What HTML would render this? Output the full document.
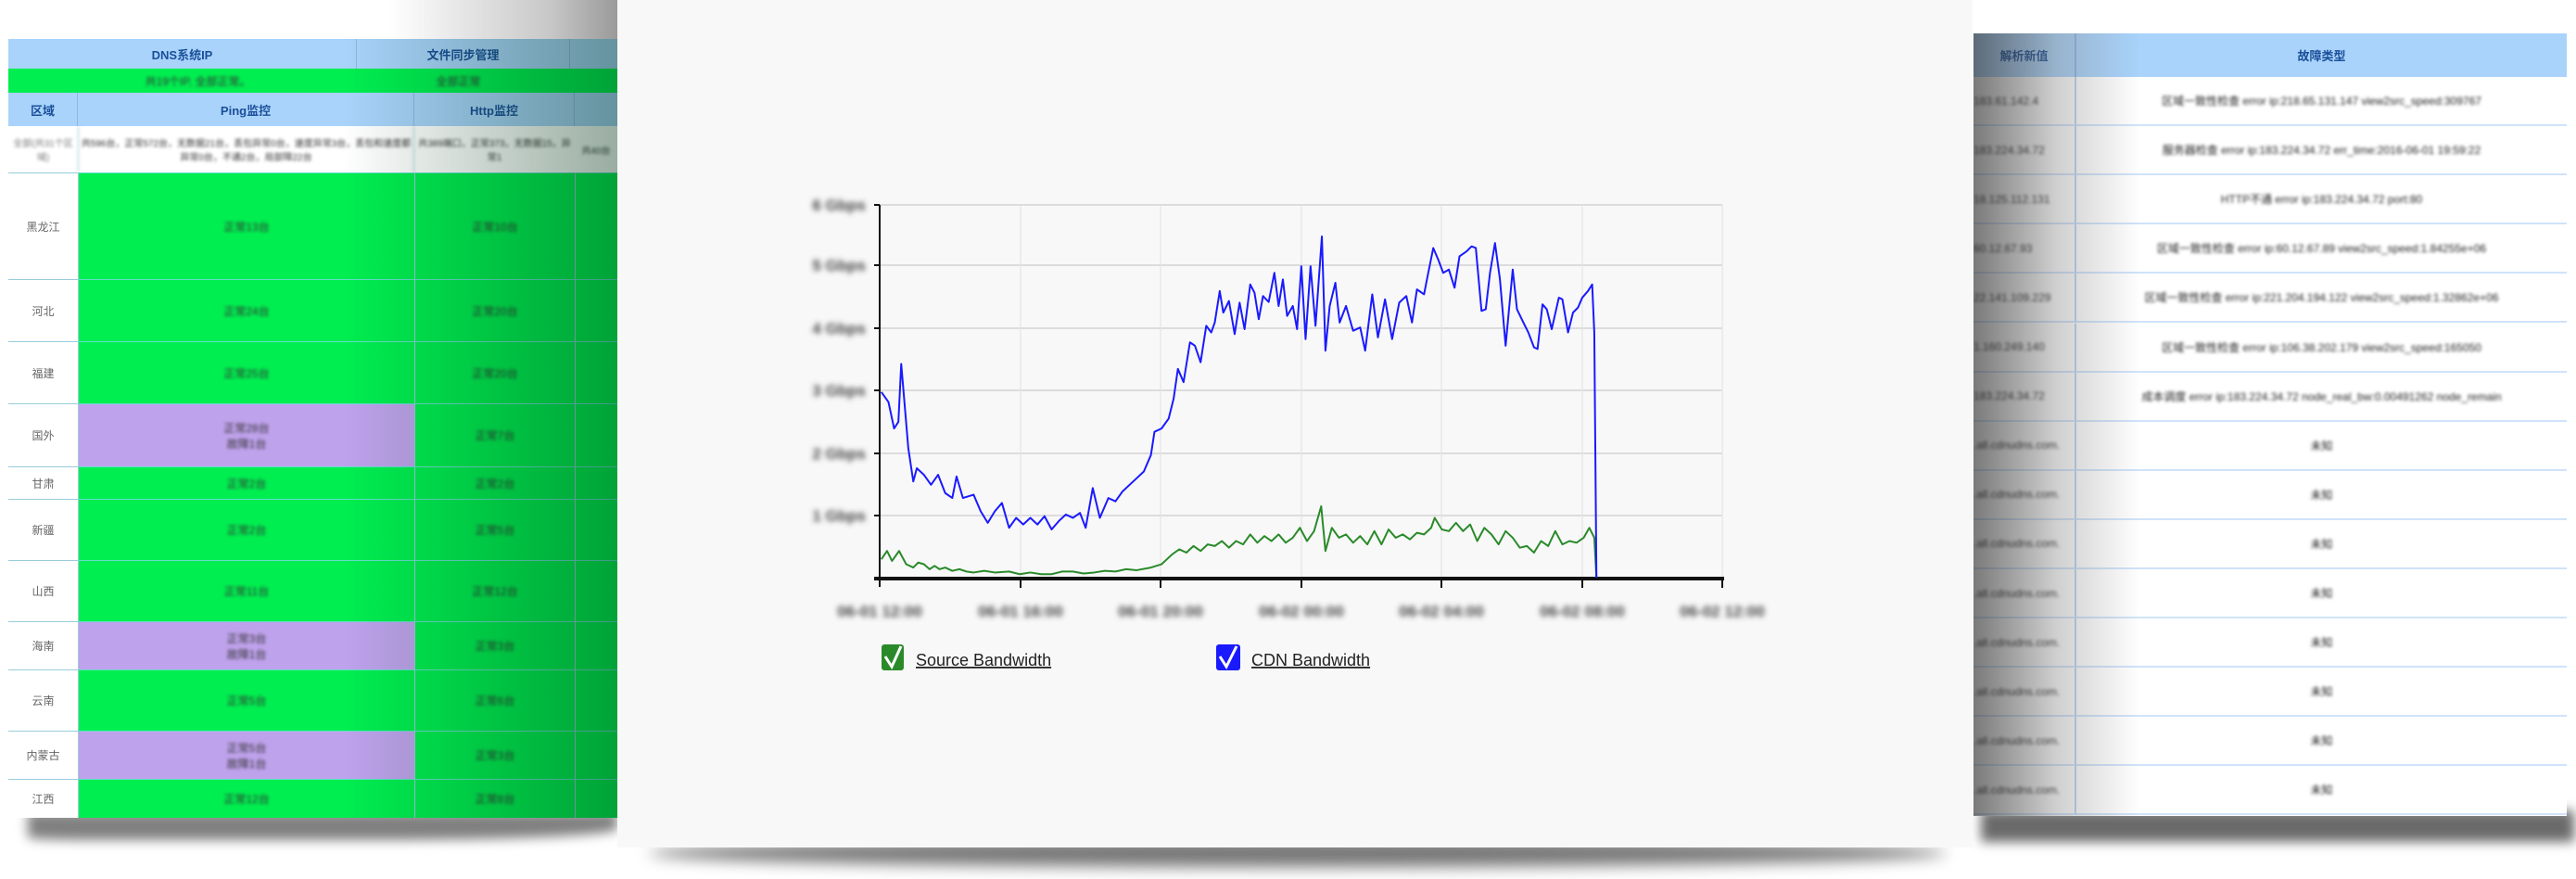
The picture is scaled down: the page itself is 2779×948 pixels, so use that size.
<!DOCTYPE html>
<html><head><meta charset="utf-8">
<style>
html,body{margin:0;padding:0;width:2779px;height:948px;overflow:hidden;background:#fff;font-family:"Liberation Sans","Noto Sans CJK SC",sans-serif;}
.abs{position:absolute;}
.blur{filter:blur(1.6px);}
.c{position:absolute;display:flex;align-items:center;justify-content:center;text-align:center;font-size:12px;color:#333;box-sizing:border-box;}
</style></head><body>

<!-- LEFT PANEL -->
<div class="abs" style="left:0;top:0;width:666px;height:948px;background:#fff;">
  <div class="abs" style="left:420px;top:0;width:246px;height:42px;background:linear-gradient(90deg,#fff,#c8c8c8 70%,#9a9a9a);"></div>
  <div class="abs" style="left:30px;top:876px;width:636px;height:30px;background:#808080;filter:blur(6px);border-radius:0 0 40% 10%;"></div>
  <div class="abs" style="left:9px;top:42px;width:657px;height:840px;background:#fff;overflow:hidden;">
    <div class="c" style="left:0;top:0;width:376px;height:32px;background:#a9d3fb;color:#1a4f9a;font-weight:bold;font-size:13px;border-right:1px solid #8bb7e0;">DNS系统IP</div>
    <div class="c" style="left:376px;top:0;width:230px;height:32px;background:#a9d3fb;color:#1a4f9a;font-weight:bold;font-size:13px;border-right:1px solid #8bb7e0;">文件同步管理</div>
    <div class="c" style="left:606px;top:0;width:51px;height:32px;background:#a9d3fb;"></div>
    <div class="c" style="left:0;top:32px;width:657px;height:26px;background:#00ee50;"><span class="blur" style="margin-right:200px;color:#333">共19个IP, 全部正常。</span><span class="blur" style="color:#333">全部正常</span></div>
    <div class="c" style="left:0;top:58px;width:75px;height:36px;background:#a9d3fb;color:#1a4f9a;font-weight:bold;font-size:13px;border-right:1px solid #8bb7e0;">区域</div>
    <div class="c" style="left:75px;top:58px;width:363px;height:36px;background:#a9d3fb;color:#1a4f9a;font-weight:bold;font-size:13px;border-right:1px solid #8bb7e0;">Ping监控</div>
    <div class="c" style="left:438px;top:58px;width:173px;height:36px;background:#a9d3fb;color:#1a4f9a;font-weight:bold;font-size:13px;border-right:1px solid #8bb7e0;">Http监控</div>
    <div class="c" style="left:611px;top:58px;width:46px;height:36px;background:#a9d3fb;"></div>
    <div class="c blur" style="left:0;top:94px;width:75px;height:50px;font-size:10px;color:#777;">全部(共31个区域)</div>
    <div class="c blur" style="left:75px;top:94px;width:363px;height:50px;font-size:10px;border-left:1px solid #9cc;border-right:1px solid #9cc;">共596台，正常572台，无数据21台，丢包异常0台，速度异常3台，丢包和速度都异常0台，不通2台，局部障22台</div>
    <div class="c blur" style="left:438px;top:94px;width:173px;height:50px;font-size:10px;">共389端口，正常373，无数据15，异常1</div>
    <div class="c blur" style="left:611px;top:94px;width:46px;height:50px;font-size:10px;">共40台</div>
    <div id="rows"></div>
  </div>
  <div class="abs" style="left:9px;top:42px;width:657px;height:840px;background:linear-gradient(90deg,rgba(0,0,0,0) 0%,rgba(0,0,0,0) 55%,rgba(0,50,20,0.4) 100%);"></div>
</div>

<!-- RIGHT PANEL -->
<div class="abs" style="left:2127px;top:0;width:652px;height:948px;background:#fff;">
  <div class="abs" style="left:10px;top:874px;width:640px;height:34px;background:#6a6a6a;filter:blur(6px);"></div>
  <div id="rp" class="abs" style="left:2px;top:36px;width:640px;height:844px;background:#fff;overflow:hidden;"></div>
  <div class="abs" style="left:2px;top:36px;width:180px;height:844px;background:linear-gradient(90deg,rgba(50,50,50,0.65),rgba(120,120,120,0.35) 50%,rgba(255,255,255,0));"></div>
</div>

<!-- CENTER PANEL -->
<div class="abs" style="left:700px;top:905px;width:1400px;height:30px;background:#777;filter:blur(8px);border-radius:50%;"></div>
<div class="abs" style="left:666px;top:0;width:1462px;height:914px;background:#f8f8f8;"></div>

<svg class="abs" style="left:0;top:0" width="2779" height="948" xmlns="http://www.w3.org/2000/svg">
  <defs><filter id="bl" x="-20%" y="-60%" width="140%" height="220%"><feGaussianBlur stdDeviation="2.8"/></filter></defs>
  <g stroke="#dcdcdc" stroke-width="2">
    <line x1="949" y1="221" x2="1858" y2="221"/>
    <line x1="949" y1="286" x2="1858" y2="286"/>
    <line x1="949" y1="354" x2="1858" y2="354"/>
    <line x1="949" y1="421" x2="1858" y2="421"/>
    <line x1="949" y1="489" x2="1858" y2="489"/>
    <line x1="949" y1="556" x2="1858" y2="556"/>
  </g>
  <g stroke="#e4e4e4" stroke-width="1.2">
    <line x1="1101" y1="221" x2="1101" y2="624"/>
    <line x1="1252" y1="221" x2="1252" y2="624"/>
    <line x1="1404" y1="221" x2="1404" y2="624"/>
    <line x1="1555" y1="221" x2="1555" y2="624"/>
    <line x1="1707" y1="221" x2="1707" y2="624"/>
    <line x1="1858" y1="221" x2="1858" y2="624"/>
  </g>
  <g stroke="#111" stroke-width="2">
    <line x1="949" y1="221" x2="949" y2="633"/>
    <line x1="943" y1="221" x2="949" y2="221"/><line x1="943" y1="286" x2="949" y2="286"/>
    <line x1="943" y1="354" x2="949" y2="354"/><line x1="943" y1="421" x2="949" y2="421"/>
    <line x1="943" y1="489" x2="949" y2="489"/><line x1="943" y1="556" x2="949" y2="556"/>
    <line x1="1101" y1="624" x2="1101" y2="634"/><line x1="1252" y1="624" x2="1252" y2="634"/>
    <line x1="1404" y1="624" x2="1404" y2="634"/><line x1="1555" y1="624" x2="1555" y2="634"/>
    <line x1="1707" y1="624" x2="1707" y2="634"/><line x1="1858" y1="624" x2="1858" y2="634"/>
  </g>
  <line x1="943" y1="624" x2="1860" y2="624" stroke="#111" stroke-width="4"/>
  <g filter="url(#bl)" fill="#444" font-size="17" font-weight="bold" font-family="Liberation Sans, sans-serif" text-anchor="end">
    <text x="934" y="227">6 Gbps</text><text x="934" y="292">5 Gbps</text><text x="934" y="360">4 Gbps</text>
    <text x="934" y="427">3 Gbps</text><text x="934" y="495">2 Gbps</text><text x="934" y="562">1 Gbps</text>
  </g>
  <g filter="url(#bl)" fill="#444" font-size="17" font-weight="bold" font-family="Liberation Sans, sans-serif" text-anchor="middle">
    <text x="949" y="665">06-01 12:00</text><text x="1101" y="665">06-01 16:00</text><text x="1252" y="665">06-01 20:00</text>
    <text x="1404" y="665">06-02 00:00</text><text x="1555" y="665">06-02 04:00</text><text x="1707" y="665">06-02 08:00</text>
    <text x="1858" y="665">06-02 12:00</text>
  </g>
  <g transform="translate(660,180) scale(0.7653,0.3571)" fill="none" stroke-linejoin="round">
    <polyline vector-effect="non-scaling-stroke" stroke="#2a8a2a" stroke-width="2" points="380,1185 388,1160 395,1190 405,1160 415,1200 425,1210 432,1195 440,1200 448,1215 455,1205 462,1215 470,1210 480,1220 490,1215 500,1222 510,1225 525,1220 540,1225 560,1222 575,1230 590,1225 605,1230 620,1230 635,1222 650,1222 665,1228 680,1225 695,1220 710,1222 725,1215 740,1218 760,1210 775,1200 790,1170 800,1155 810,1165 820,1145 830,1160 840,1140 850,1145 860,1130 870,1150 880,1130 890,1140 900,1110 910,1135 920,1115 930,1130 940,1110 950,1135 960,1120 970,1090 980,1130 990,1100 1000,1025 1006,1160 1015,1090 1025,1120 1035,1110 1045,1135 1055,1115 1065,1140 1075,1100 1085,1140 1095,1095 1105,1120 1115,1110 1125,1125 1135,1105 1145,1110 1155,1090 1160,1060 1170,1095 1180,1100 1190,1075 1200,1100 1210,1080 1220,1130 1230,1090 1240,1110 1250,1140 1260,1100 1270,1120 1280,1150 1290,1145 1300,1165 1310,1130 1320,1145 1330,1100 1340,1140 1350,1130 1360,1135 1370,1120 1378,1090 1385,1120 1388,1240"/>
    <polyline vector-effect="non-scaling-stroke" stroke="#1a1aff" stroke-width="2" points="380,680 390,710 398,790 404,770 408,595 418,850 425,950 430,910 440,930 450,960 460,930 470,985 480,1000 486,935 495,1000 510,990 520,1040 530,1075 540,1040 550,1015 560,1090 570,1060 580,1080 590,1060 600,1080 610,1055 620,1095 630,1070 640,1050 650,1060 660,1045 668,1090 678,970 688,1060 700,1000 710,1010 720,980 730,960 740,940 750,920 760,870 765,800 775,790 785,760 792,700 798,610 806,650 815,530 822,540 830,590 838,480 845,500 850,470 857,375 862,440 870,405 878,505 885,410 892,490 900,355 906,380 912,460 918,390 926,408 934,320 940,420 946,340 952,450 960,420 966,490 972,300 978,520 985,300 992,480 1001,210 1006,555 1012,420 1020,350 1026,470 1035,420 1045,495 1055,485 1062,555 1072,385 1080,515 1090,400 1100,520 1110,410 1120,390 1128,470 1135,370 1145,385 1150,330 1158,245 1165,280 1172,320 1180,310 1188,365 1195,270 1205,255 1212,240 1218,245 1226,435 1232,430 1238,320 1245,230 1252,340 1260,540 1270,310 1276,430 1285,470 1292,500 1300,545 1305,550 1312,415 1318,430 1325,490 1335,395 1340,400 1348,500 1355,440 1362,425 1368,395 1376,375 1382,355 1385,500 1388,1240"/>
  </g>
  <rect x="951" y="695" width="24" height="28" rx="3" fill="#2a8a2a"/>
  <path d="M955 708 L962 719 L972 697" stroke="#fff" stroke-width="3" fill="none"/>
  <text x="988" y="718" font-size="18" fill="#222" font-family="Liberation Sans, sans-serif" text-decoration="underline">Source Bandwidth</text>
  <rect x="1312" y="695" width="26" height="28" rx="3" fill="#1a1aff"/>
  <path d="M1316 708 L1323 719 L1334 697" stroke="#fff" stroke-width="3" fill="none"/>
  <text x="1350" y="718" font-size="18" fill="#222" font-family="Liberation Sans, sans-serif" text-decoration="underline">CDN Bandwidth</text>
</svg>

<script>
(function(){
  var rows=[["黑龙江",186,301,"g","正常13台","正常10台"],["河北",301,368,"g","正常24台","正常20台"],["福建",368,435,"g","正常25台","正常20台"],["国外",435,503,"p","正常28台<br>故障1台","正常7台"],["甘肃",503,538,"g","正常2台","正常2台"],["新疆",538,604,"g","正常2台","正常5台"],["山西",604,670,"g","正常11台","正常12台"],["海南",670,722,"p","正常3台<br>故障1台","正常3台"],["云南",722,788,"g","正常5台","正常6台"],["内蒙古",788,840,"p","正常5台<br>故障1台","正常3台"],["江西",840,882,"g","正常12台","正常8台"]];
  var h="";
  rows.forEach(function(r){
    var t=r[1]-42,hh=r[2]-r[1],bg=r[3]=="g"?"#00ee50":"#bfa2ec";
    h+='<div class="c" style="left:0;top:'+t+'px;width:75px;height:'+hh+'px;background:#fff;color:#666;font-size:12px;border-top:1px solid #9cd;">'+r[0]+'</div>';
    h+='<div class="c" style="left:75px;top:'+t+'px;width:363px;height:'+hh+'px;background:'+bg+';border-top:1px solid #6dc;border-left:1px solid #9cd;"><span class="blur">'+r[4]+'</span></div>';
    h+='<div class="c" style="left:438px;top:'+t+'px;width:173px;height:'+hh+'px;background:#00ee50;border-top:1px solid #6dc;border-left:1px solid #9cd;"><span class="blur">'+r[5]+'</span></div>';
    h+='<div class="c" style="left:611px;top:'+t+'px;width:46px;height:'+hh+'px;background:#00ee50;border-top:1px solid #6dc;border-left:1px solid #9cd;"></div>';
  });
  document.getElementById("rows").innerHTML=h;
  var ips=["183.61.142.4","183.224.34.72","18.125.112.131","60.12.67.93","22.141.109.229","1.160.249.140","183.224.34.72"];
  var err=["区域一致性检查 error ip:218.65.131.147 view2src_speed:309767","服务器检查 error ip:183.224.34.72 err_time:2016-06-01 19:59:22","HTTP不通 error ip:183.224.34.72 port:80","区域一致性检查 error ip:60.12.67.89 view2src_speed:1.84255e+06","区域一致性检查 error ip:221.204.194.122 view2src_speed:1.32862e+06","区域一致性检查 error ip:106.38.202.179 view2src_speed:165050","成本调度 error ip:183.224.34.72 node_real_bw:0.00491262 node_remain"];
  var g='<div class="c" style="left:0;top:0;width:111px;height:47px;background:#a9d3fb;color:#1a4f9a;font-weight:bold;font-size:13px;border-right:2px solid #8bb7e0;">解析新值</div><div class="c" style="left:111px;top:0;width:529px;height:47px;background:#a9d3fb;color:#1a4f9a;font-weight:bold;font-size:13px;">故障类型</div>';
  for(var i=0;i<15;i++){
    var t=47+i*53.1;
    var a=i<7?ips[i]:".all.cdnudns.com.", b=i<7?err[i]:"未知";
    g+='<div class="c" style="left:0;top:'+t+'px;width:111px;height:53px;justify-content:flex-start;border-bottom:2px solid #cfe3fa;border-right:2px solid #b9d6f5;"><span class="blur" style="font-size:12px;color:#222">'+a+'</span></div>';
    g+='<div class="c" style="left:111px;top:'+t+'px;width:529px;height:53px;border-bottom:2px solid #cfe3fa;"><span class="blur" style="font-size:12px;color:#222">'+b+'</span></div>';
  }
  document.getElementById("rp").innerHTML=g;
})();
</script>
</body></html>
